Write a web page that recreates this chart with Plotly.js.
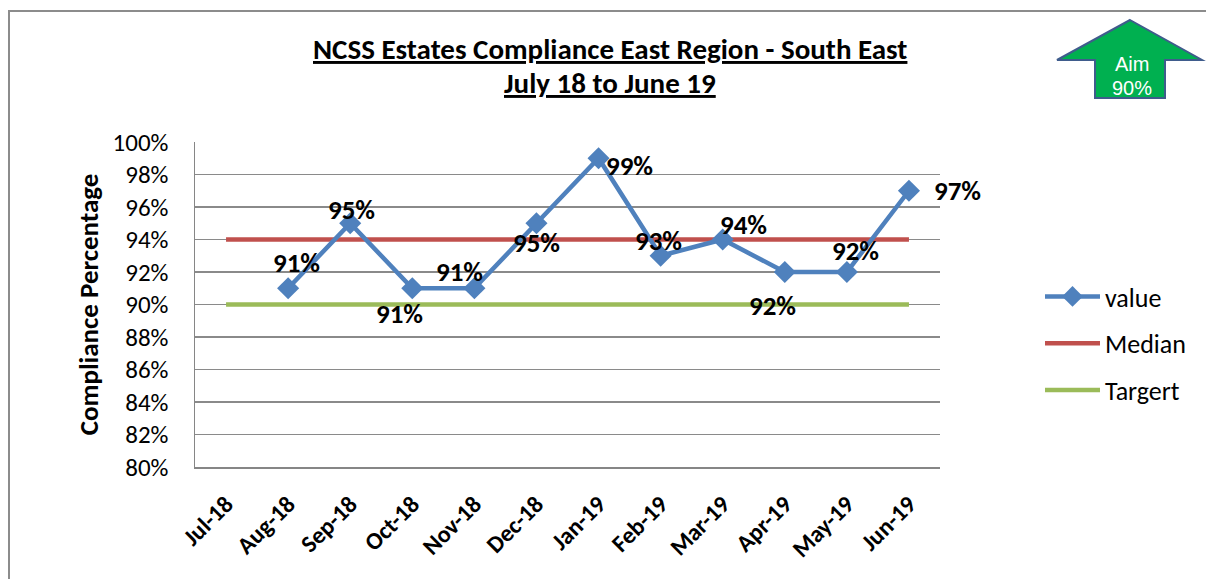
<!DOCTYPE html>
<html>
<head>
<meta charset="utf-8">
<script src="https://cdn.plot.ly/plotly-3.0.1.min.js"></script>
<style>
html,body{margin:0;padding:0;background:#fff;}
#wrap{position:relative;width:1206px;height:579px;overflow:hidden;}
#frame{position:absolute;left:8px;top:10px;width:1300px;height:700px;border-left:2px solid #8c8c8c;border-top:2px solid #8c8c8c;pointer-events:none;}
#chart{position:absolute;left:0;top:0;width:1206px;height:579px;}
</style>
</head>
<body>
<div id="wrap">
<div id="frame"></div>
<div id="chart"></div>
</div>
<script>
// ---- data ----
var months = ["Jul-18","Aug-18","Sep-18","Oct-18","Nov-18","Dec-18","Jan-19","Feb-19","Mar-19","Apr-19","May-19","Jun-19"];
var values = [null,0.91,0.95,0.91,0.91,0.95,0.99,0.93,0.94,0.92,0.92,0.97];
var median = [0.94,0.94,0.94,0.94,0.94,0.94,0.94,0.94,0.94,0.94,0.94,0.94];
var target = [0.90,0.90,0.90,0.90,0.90,0.90,0.90,0.90,0.90,0.90,0.90,0.90];
var seriesNames = ["value","Median","Targert"];
var titleLines = ["NCSS Estates Compliance East Region - South East","July 18 to June 19"];
var aimLines = ["Aim","90%"];

// ---- label offsets (style, px) ----
var labelShift = [null,[8,26],[1,14],[-13,-25],[-15,17],[0,-19],[31,-7],[-2,15],[21,15],[-12,-33],[9,22],[49,0]];

var W = 1206, H = 579;
var M = {l:195, r:266, t:142, b:112};
var pw = W - M.l - M.r, ph = H - M.t - M.b;
function px(x){ return (x - M.l)/pw; }
function py(y){ return (H - M.b - y)/ph; }

var FONT = "Carlito, 'Liberation Sans Narrow', 'Open Sans', sans-serif";

var tVal = {x: months, y: values, name: seriesNames[0], type:'scatter', mode:'lines+markers',
   line:{color:'#4F81BD', width:4.5}, marker:{symbol:'diamond', size:17, color:'#4F81BD'},
   legendgroup:'a', legendrank:1, connectgaps:false, hoverinfo:'skip'};
var tMed = {x: months, y: median, name: seriesNames[1], type:'scatter', mode:'lines',
   line:{color:'#C0504D', width:4.5}, legendgroup:'b', legendrank:2, hoverinfo:'skip'};
var tTar = {x: months, y: target, name: seriesNames[2], type:'scatter', mode:'lines',
   line:{color:'#9BBB59', width:4.5}, legendgroup:'c', legendrank:3, hoverinfo:'skip'};
var traces = [tMed, tTar, tVal];

var annotations = [];
for (var i = 0; i < months.length; i++) {
  if (values[i] === null) continue;
  annotations.push({
    x: months[i], y: values[i], xref:'x', yref:'y',
    text: Math.round(values[i]*100) + '%',
    showarrow:false, xshift: labelShift[i][0], yshift: labelShift[i][1],
    font:{family:FONT, size:27, color:'#000', weight:'bold'}
  });
}
// title lines
annotations.push({xref:'paper', yref:'paper', x: px(610), y: py(49), xanchor:'center', yanchor:'middle',
  text:'<b>'+titleLines[0]+'</b>', showarrow:false,
  font:{family:FONT, size:29, color:'#000', lineposition:'under'}});
annotations.push({xref:'paper', yref:'paper', x: px(610), y: py(83), xanchor:'center', yanchor:'middle',
  text:'<b>'+titleLines[1]+'</b>', showarrow:false,
  font:{family:FONT, size:29, color:'#000', lineposition:'under'}});
// Aim arrow text
annotations.push({xref:'paper', yref:'paper', x: px(1132), y: py(64), xanchor:'center', yanchor:'middle',
  text: aimLines[0], showarrow:false,
  font:{family:"'Liberation Sans', Arial, sans-serif", size:20, color:'#fff'}});
annotations.push({xref:'paper', yref:'paper', x: px(1132), y: py(88), xanchor:'center', yanchor:'middle',
  text: aimLines[1], showarrow:false,
  font:{family:"'Liberation Sans', Arial, sans-serif", size:20, color:'#fff'}});

var arrowPath = 'M ' + px(1130) + ' ' + py(20) +
  ' L ' + px(1202) + ' ' + py(60) +
  ' L ' + px(1165) + ' ' + py(60) +
  ' L ' + px(1165) + ' ' + py(98) +
  ' L ' + px(1095) + ' ' + py(98) +
  ' L ' + px(1095) + ' ' + py(60) +
  ' L ' + px(1057) + ' ' + py(60) + ' Z';

var layout = {
  width: W, height: H,
  margin: M,
  paper_bgcolor:'rgba(0,0,0,0)', plot_bgcolor:'rgba(0,0,0,0)',
  font:{family:FONT, color:'#000'},
  xaxis:{
    type:'category', categoryorder:'array', categoryarray: months,
    range:[-0.5, 11.5], showgrid:false, zeroline:false,
    showline:true, linecolor:'#868686', linewidth:1.5,
    tickangle:-45, ticks:'', ticklabelstandoff: 12,
    tickfont:{family:FONT, size:24, color:'#000', weight:'bold'}
  },
  yaxis:{
    range:[0.8, 1.0], dtick:0.02, tick0:0.8, tickformat:'.0%',
    showgrid:true, gridcolor:'#8a8a8a', gridwidth:1.2,
    showline:true, linecolor:'#868686', linewidth:1.5, zeroline:false,
    ticks:'', ticklabelstandoff: 20,
    tickfont:{family:FONT, size:25, color:'#000'},
    title:{text:'<b>Compliance Percentage</b>', standoff: 6,
      font:{family:FONT, size:27, color:'#000'}}
  },
  showlegend:true,
  legend:{
    x: px(1040), y: py(273), xanchor:'left', yanchor:'top',
    font:{family:FONT, size:26, color:'#000'},
    traceorder:'grouped', tracegroupgap: 10, itemwidth: 55,
    bgcolor:'rgba(0,0,0,0)'
  },
  annotations: annotations,
  shapes:[{type:'path', xref:'paper', yref:'paper', path: arrowPath,
    fillcolor:'#00B050', line:{color:'#3F5C8C', width:2}, layer:'below'}]
};

Plotly.newPlot('chart', traces, layout, {displayModeBar:false, staticPlot:true});
</script>
</body>
</html>
